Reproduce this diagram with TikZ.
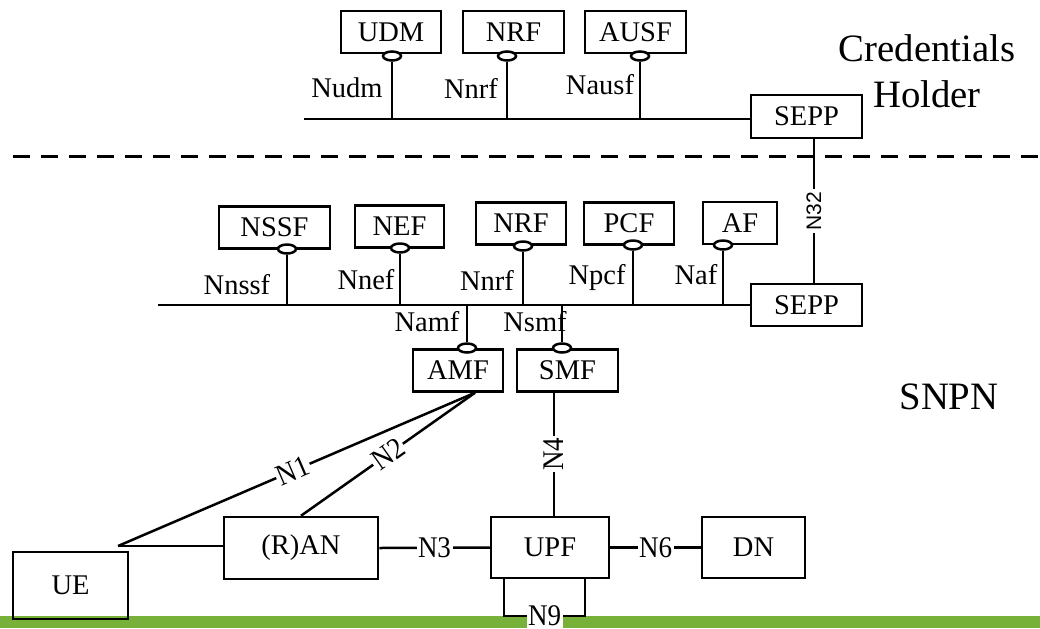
\documentclass[tikz,border=0pt]{standalone}
\usepackage{fontspec}
\setmainfont{Liberation Serif}
\newfontfamily\narrowfont[FakeStretch=0.9]{Liberation Serif}
\newfontfamily\arialfont{Liberation Sans}
\usetikzlibrary{shapes.geometric}
\definecolor{bargreen}{RGB}{120,177,58}

\begin{document}
\begin{tikzpicture}[x=0.4pt,y=-0.4pt,line width=1pt,
	nf/.style={draw,line width=1pt,minimum height=16.8pt,inner sep=0pt,font=\fontsize{11.4}{13}\selectfont},
	sbi/.style={draw,ellipse,fill=white,line width=1pt,minimum width=7.2pt,minimum height=3.6pt,inner sep=0pt},
	itf/.style={inner sep=0pt,font=\fontsize{11.4}{13}\selectfont},
	ref/.style={fill=white,inner sep=0.6pt,font=\narrowfont\fontsize{12}{13}\selectfont},
	n32/.style={fill=white,inner sep=1pt,rotate=90,font=\arialfont\fontsize{8.4}{10}\selectfont},
	big/.style={inner sep=0pt,align=center,font=\fontsize{15.5}{18.4}\selectfont}]

	\useasboundingbox (0,0) rectangle (1040,628);
	\fill[bargreen] (0,616) rectangle (1040,628);

	\node[nf,minimum width=40pt] (udm) at (391,32) {UDM};
	\node[nf,minimum width=40.4pt] (nrfa) at (513.5,32) {NRF};
	\node[nf,minimum width=40.4pt] (ausf) at (635.5,32) {AUSF};
	\node[nf,minimum width=44.4pt,minimum height=17.2pt] (seppa) at (806.5,116.5) {SEPP};

	\node[big] (holder) at (927,71.5) {Credentials\\Holder};
	\node[big] (snpn) at (949,397) {SNPN};

	\node[nf,minimum width=44.4pt] (nssf) at (274.5,227.5) {NSSF};
	\node[nf,minimum width=35.6pt] (nef) at (399.5,226.5) {NEF};
	\node[nf,minimum width=36pt] (nrfb) at (521,223.5) {NRF};
	\node[nf,minimum width=36pt] (pcf) at (629,223.5) {PCF};
	\node[nf,minimum width=29.6pt] (af) at (740,223) {AF};
	\node[nf,minimum width=44.4pt] (seppb) at (806.5,305) {SEPP};
	\node[nf,minimum width=36pt] (amf) at (458,370.5) {AMF};
	\node[nf,minimum width=40.4pt] (smf) at (567.5,370.5) {SMF};

	\node[nf,minimum width=46pt,minimum height=26.8pt] (ue) at (70.5,585.5) {UE};
	\node[nf,minimum width=61.6pt,minimum height=24.8pt] (ran) at (301,548) {(R)AN};
	\node[nf,minimum width=47.2pt,minimum height=24.4pt] (upf) at (550,547.5) {UPF};
	\node[nf,minimum width=41.2pt,minimum height=24.4pt] (dn) at (753.5,547.5) {DN};

	\coordinate (busa) at (304,119);
	\coordinate (busb) at (158,305);
	\coordinate (uetip) at (118,546);
	\coordinate (amfp) at ([xshift=6.8pt]amf.south);
	\coordinate (n9a) at (504,616);
	\coordinate (n9b) at (585,616);

	\draw[line width=1.2pt,dash pattern=on 6.8pt off 4.4pt] (13,156) -- (1040,156);

	\node[sbi] (pudm) at (392,56) {};
	\node[sbi] (pnrfa) at (507,56) {};
	\node[sbi] (pausf) at (640,56) {};
	\node[sbi] (pnssf) at (287,249) {};
	\node[sbi] (pnef) at (400,248) {};
	\node[sbi] (pnrfb) at (523,246) {};
	\node[sbi] (ppcf) at (633,245) {};
	\node[sbi] (paf) at (723,245) {};
	\node[sbi] (pamf) at (467,348) {};
	\node[sbi] (psmf) at (562,348) {};

	\draw (busa) -- (seppa.west |- busa);
	\draw (pudm.south) -- (pudm.south |- busa);
	\draw (pnrfa.south) -- (pnrfa.south |- busa);
	\draw (pausf.south) -- (pausf.south |- busa);

	\node[itf] (nudm) at (347,88) {Nudm};
	\node[itf] (nnrfa) at (471,88) {Nnrf};
	\node[itf] (nausf) at (600,85) {Nausf};

	\draw ([xshift=3pt]seppa.south) -- node[n32] {N32} ([xshift=3pt]seppa.south |- seppb.north);

	\draw (busb) -- (seppb.west |- busb);
	\draw (pnssf.south) -- (pnssf.south |- busb);
	\draw (pnef.south) -- (pnef.south |- busb);
	\draw (pnrfb.south) -- (pnrfb.south |- busb);
	\draw (ppcf.south) -- (ppcf.south |- busb);
	\draw (paf.south) -- (paf.south |- busb);
	\draw (pamf.north) -- (pamf.north |- busb);
	\draw (psmf.north) -- (psmf.north |- busb);

	\node[itf] (nnssf) at (237,285) {Nnssf};
	\node[itf] (nnef) at (366,280) {Nnef};
	\node[itf] (nnrfb) at (487,280) {Nnrf};
	\node[itf] (npcf) at (597,277) {Npcf};
	\node[itf] (naf) at (696,275) {Naf};
	\node[itf] (namf) at (427,322) {Namf};
	\node[itf] (nsmf) at (535,322) {Nsmf};

	\draw (uetip) -- node[ref,sloped,pos=0.49] {N1} (amfp);
	\draw (ran.north) -- node[ref,sloped] {N2} (amfp);
	\draw (uetip) -- (uetip -| ran.west);
	\draw (ran.east) -- node[ref] {N3} (upf.west);
	\draw (upf.east) -- node[ref] {N6} (dn.west);
	\draw ([xshift=1.6pt]upf.north) -- node[ref,rotate=90] {N4} ([xshift=1.6pt]upf.north |- smf.south);
	\draw (n9a |- upf.south) -- (n9a) -- node[ref] {N9} (n9b) -- (n9b |- upf.south);

\end{tikzpicture}
\end{document}
